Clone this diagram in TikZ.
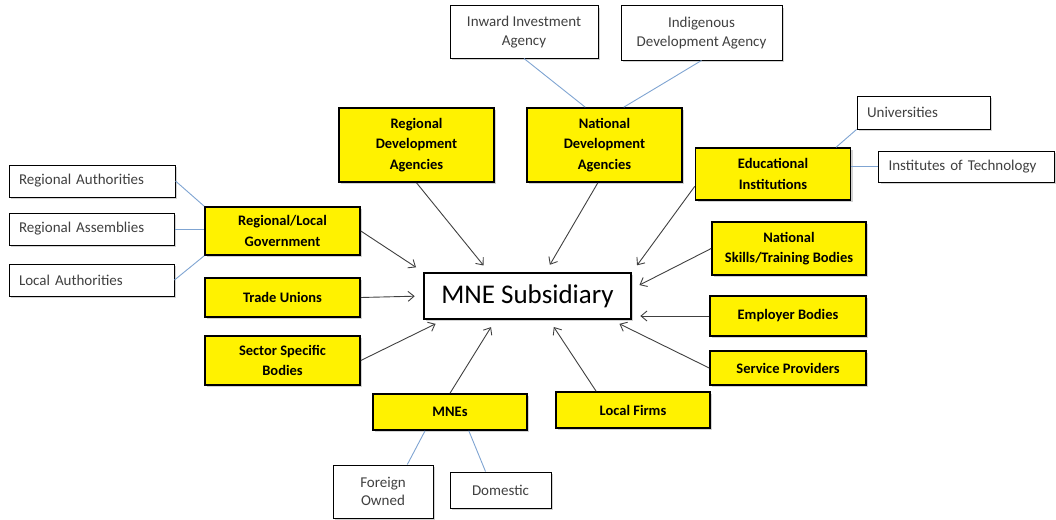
\documentclass[tikz,border=0pt]{standalone}
\usepackage{fontspec}
\setmainfont{Carlito}
\usepackage{xcolor}
\usetikzlibrary{positioning, arrows.meta, shadows}

\definecolor{tieblue}{HTML}{7FA4D2}

\begin{document}
\begin{tikzpicture}[x=1pt, y=-1pt, >={Straight Barb[length=6pt,width=10pt]},
  every node/.style={inner sep=0pt},
  boxshadow/.style={drop shadow={opacity=0.35, shadow xshift=2pt, shadow yshift=-2pt}},
  hub/.style={draw, line width=2.6pt, fill=white, minimum width=207pt, minimum height=46pt, font=\fontsize{27}{30}\selectfont, boxshadow},
  actor/.style={draw, line width=1.6pt, fill=yellow, align=center, font=\bfseries\fontsize{14.5}{20.5}\selectfont, boxshadow},
  sub/.style={draw, line width=1pt, fill=white, align=center, text=black!75, font=\fontsize{15}{18.5}\selectfont, boxshadow},
  subl/.style={sub, align=left, inner xsep=10pt},
  link/.style={->, black!75, line width=0.9pt, shorten >=8pt},
  tie/.style={tieblue, line width=0.9pt}]
  \useasboundingbox (0,0) rectangle (1056,519);

  \node[hub] (mne) at (527.5,296) {MNE Subsidiary};

  \node[actor, minimum width=155pt, minimum height=74pt] (rda)  at (416.5,145) {Regional\\Development\\Agencies};
  \node[actor, minimum width=155pt, minimum height=74pt] (nda)  at (604.5,145) {National\\Development\\Agencies};
  \node[actor, minimum width=155pt, minimum height=52pt] (ed)   at (773,174)   {Educational\\Institutions};
  \node[actor, minimum width=154pt, minimum height=53pt] (ns)   at (789,248.5) {National\\Skills/Training Bodies};
  \node[actor, minimum width=156pt, minimum height=40pt] (eb)   at (788,316)   {Employer Bodies};
  \node[actor, minimum width=156pt, minimum height=34pt] (sp)   at (788,368)   {Service Providers};
  \node[actor, minimum width=154pt, minimum height=36pt] (lf)   at (633,410)   {Local Firms};
  \node[actor, minimum width=154pt, minimum height=36pt] (mnes) at (450,412)   {MNEs};
  \node[actor, minimum width=155pt, minimum height=49pt] (sec)  at (282.5,360.5) {Sector Specific\\Bodies};
  \node[actor, minimum width=155pt, minimum height=39pt] (tu)   at (282.5,297.5) {Trade Unions};
  \node[actor, minimum width=155pt, minimum height=48pt] (rlg)  at (282.5,231) {Regional/Local\\Government};

  \node[subl, text width=146pt, minimum height=32pt] (ra)   at (92,181)    {Regional Authorities};
  \node[subl, text width=145pt, minimum height=32pt] (rasm) at (91.5,229)  {Regional Assemblies};
  \node[subl, text width=145pt, minimum height=32pt] (la)   at (91.5,280)  {Local Authorities};
  \node[sub, minimum width=148pt, minimum height=52pt] (iia) at (524,32)    {Inward Investment\\Agency};
  \node[sub, minimum width=161pt, minimum height=54pt] (ida) at (701.5,33)  {Indigenous\\Development Agency};
  \node[subl, text width=113pt, minimum height=33pt] (uni)  at (923.5,112.5) {Universities};
  \node[subl, text width=156pt, minimum height=31pt] (iot)  at (966.5,166.5) {Institutes of Technology};
  \node[sub, minimum width=100pt, minimum height=53pt] (fo)  at (383,491.5) {Foreign\\Owned};
  \node[sub, minimum width=101pt, minimum height=36pt] (dom) at (500.5,490) {Domestic};

  \path[link]
    (rlg.east)  edge (mne.north west)
    (tu.east)   edge (mne.west)
    (sec.east)  edge (mne.196)
    (mnes.north) edge (mne.217)
    (lf.153)    edge (mne.-48)
    (sp.west)   edge (mne.-16)
    (eb.west)   edge (eb.west -| mne.east)
    (ns.west)   edge (mne.4)
    (ed.189)    edge (mne.13)
    (nda.260)   edge (mne.53)
    (rda.south) edge (mne.148);

  \path[tie]
    (ra.east)   edge (rlg.north west)
    (rasm.east) edge (rasm.east -| rlg.west)
    (la.east)   edge (rlg.south west)
    (iia.south) edge (nda.117)
    (ida.south) edge (nda.63)
    (uni.south west) edge (ed.23)
    (iot.west -| ed.east) edge (iot.west)
    (mnes.217)  edge (fo.48)
    (mnes.-45)  edge (dom.129);
\end{tikzpicture}
\end{document}
